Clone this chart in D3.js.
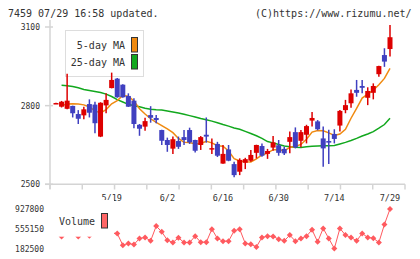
<html>
<head>
<script src="https://cdn.jsdelivr.net/npm/d3@7"></script>
<style>
  body { margin: 0; background: #fff; }
  text { font-family: "DejaVu Sans Mono", monospace; fill: #333; }
</style>
</head>
<body>
<svg id="chart" width="420" height="259"></svg>
<script>
  // trading days shown, 2025
  const dates = ['5/1', '5/2', '5/7', '5/8', '5/9', '5/12', '5/13', '5/14', '5/15', '5/16',
    '5/19', '5/20', '5/21', '5/22', '5/23', '5/26', '5/27', '5/28', '5/29', '5/30',
    '6/2', '6/3', '6/4', '6/5', '6/6', '6/9', '6/10', '6/11', '6/12', '6/13',
    '6/16', '6/17', '6/18', '6/19', '6/20', '6/23', '6/24', '6/25', '6/26', '6/27',
    '6/30', '7/1', '7/2', '7/3', '7/4', '7/7', '7/8', '7/9', '7/10', '7/11',
    '7/14', '7/15', '7/16', '7/17', '7/18', '7/22', '7/23', '7/24', '7/25', '7/28', '7/29']
  const tickDates = ['5/19', '6/2', '6/16', '6/30', '7/14', '7/29']

  const openP = [2808, 2796, 2788, 2799, 2768, 2763, 2806, 2804, 2682, 2801,
    2867, 2903, 2880, 2837, 2819, 2727, 2720, 2764, 2753, 2707,
    2669, 2636, 2665, 2680, 2707, 2669, 2650, 2689, 2633, 2654,
    2579, 2633, 2577, 2548, 2582, 2590, 2620, 2646, 2616, 2640,
    2649, 2635, 2662, 2699, 2666, 2689, 2743, 2740, 2675, 2665,
    2692, 2724, 2783, 2809, 2860, 2875, 2830, 2849, 2920, 2993, 3016]
  const highP = [2811, 2818, 2922, 2800, 2783, 2796, 2824, 2815, 2813, 2847,
    2926, 2905, 2882, 2847, 2828, 2730, 2754, 2798, 2764, 2708,
    2678, 2682, 2682, 2707, 2716, 2670, 2684, 2755, 2675, 2662,
    2650, 2650, 2586, 2599, 2601, 2631, 2651, 2656, 2635, 2684,
    2669, 2643, 2701, 2717, 2707, 2727, 2776, 2745, 2720, 2708,
    2710, 2783, 2822, 2862, 2898, 2898, 2870, 2885, 2952, 3019, 3108]
  const lowP = [2807, 2793, 2786, 2755, 2730, 2748, 2755, 2695, 2680, 2771,
    2866, 2830, 2830, 2795, 2714, 2685, 2704, 2735, 2733, 2650,
    2624, 2616, 2635, 2650, 2654, 2621, 2631, 2659, 2616, 2604,
    2578, 2588, 2527, 2535, 2558, 2586, 2599, 2605, 2597, 2628,
    2609, 2612, 2618, 2637, 2641, 2656, 2720, 2706, 2567, 2577,
    2656, 2701, 2771, 2792, 2834, 2847, 2802, 2824, 2910, 2948, 2987]
  const closeP = [2810, 2815, 2819, 2771, 2750, 2786, 2773, 2733, 2811, 2822,
    2898, 2832, 2832, 2796, 2730, 2712, 2741, 2754, 2745, 2666,
    2650, 2672, 2643, 2669, 2660, 2628, 2680, 2682, 2638, 2609,
    2616, 2590, 2535, 2593, 2596, 2612, 2650, 2609, 2627, 2660,
    2620, 2618, 2680, 2641, 2699, 2722, 2753, 2710, 2637, 2659,
    2673, 2780, 2802, 2847, 2849, 2868, 2856, 2875, 2951, 2968, 3061]

  const ma5 = [null, 2800, 2806, 2807, 2806, 2803, 2795, 2780, 2772, 2785,
    2807, 2819, 2839, 2836, 2818, 2788, 2768, 2750, 2736, 2724,
    2711, 2697, 2675, 2660, 2659, 2654, 2656, 2664, 2658, 2647,
    2645, 2627, 2598, 2589, 2586, 2585, 2597, 2612, 2619, 2632,
    2633, 2627, 2641, 2644, 2652, 2672, 2699, 2705, 2704, 2696,
    2686, 2692, 2710, 2752, 2790, 2829, 2844, 2859, 2880, 2904, 2942]
  const ma25 = [null, 2878, 2876, 2873, 2868, 2862, 2858, 2854, 2850, 2844,
    2835, 2823, 2814, 2805, 2800, 2796, 2790, 2786, 2784, 2783,
    2780, 2776, 2772, 2767, 2762, 2757, 2751, 2746, 2741, 2735,
    2728, 2722, 2715, 2710, 2702, 2694, 2685, 2675, 2663, 2658,
    2652, 2646, 2643, 2641, 2640, 2643, 2645, 2646, 2647, 2647,
    2648, 2654, 2660, 2667, 2675, 2684, 2692, 2701, 2714, 2728, 2752]

  const volume = [480000, 410000, 620000, 500000, 410000, 480000, 425000, 560000, 700000, 520000,
    470000, 467000, 245000, 277000, 258000, 372000, 391000, 327000, 605000, 497000,
    340000, 296000, 384000, 296000, 296000, 416000, 302000, 302000, 548000, 372000,
    321000, 321000, 516000, 548000, 277000, 264000, 213000, 391000, 416000, 410000,
    359000, 327000, 435000, 321000, 372000, 416000, 535000, 308000, 562000, 372000,
    182500, 562000, 435000, 391000, 327000, 467000, 391000, 378000, 296000, 637000, 927800]

  const priceTicks = [2500, 2800, 3100]
  const volTicks = [182500, 555150, 927800]

  const svg = d3.select('#chart')
  const x = d3.scaleLinear().domain([0, dates.length - 1]).range([56, 390])
  const y = d3.scaleLinear().domain([2500, 3100]).range([184.3, 27])
  const yv = d3.scaleLinear().domain([182500, 927800]).range([248.5, 209])
  const frame = d3.scaleLinear().domain([0, 11]).range([50, 405])

  const rows = dates.map((d, i) => ({
    d, i, o: openP[i], h: highP[i], l: lowP[i], c: closeP[i]
  }))

  // header
  svg.append('text').attr('x', 8).attr('y', 17).style('font-size', '10px')
    .text('7459 07/29 16:58 updated.')
  svg.append('text').attr('x', 255).attr('y', 17).style('font-size', '10px')
    .text('(C)https://www.rizumu.net/')

  // frame
  const axisColor = '#d4d4d4'
  svg.append('line').attr('x1', 50).attr('x2', 50).attr('y1', 20).attr('y2', 189)
    .attr('stroke', axisColor).attr('stroke-width', 1.5)
  svg.append('line').attr('x1', 45).attr('x2', 405).attr('y1', y(2500)).attr('y2', y(2500))
    .attr('stroke', axisColor).attr('stroke-width', 1.5)
  svg.selectAll('.xdiv').data(d3.range(12)).enter().append('line')
    .attr('x1', k => frame(k)).attr('x2', k => frame(k))
    .attr('y1', y(2500)).attr('y2', 189.5)
    .attr('stroke', axisColor).attr('stroke-width', 1.5)
  svg.selectAll('.ytick').data(priceTicks).enter().append('line')
    .attr('x1', 45).attr('x2', 53).attr('y1', d => y(d)).attr('y2', d => y(d))
    .attr('stroke', axisColor).attr('stroke-width', 1.5)
  svg.selectAll('.ylab').data(priceTicks).enter().append('text')
    .attr('x', 40).attr('y', d => y(d) + 3).attr('text-anchor', 'end')
    .style('font-size', '8px').text(d => d)
  svg.selectAll('.xlab').data(tickDates).enter().append('text')
    .attr('x', d => x(dates.indexOf(d))).attr('y', 200.5).attr('text-anchor', 'middle')
    .style('font-size', '8.5px').text(d => d)

  // price legend (under candles)
  const lg = svg.append('g')
  lg.append('rect').attr('x', 65.5).attr('y', 30.5).attr('width', 78).attr('height', 46)
    .attr('fill', '#fff').attr('stroke', '#ddd')
  const legendItems = [['5-day MA', '#f08a10', 48.7, 37.5], ['25-day MA', '#12a81e', 65.5, 54.5]]
  legendItems.forEach(([label, color, ty, ry]) => {
    lg.append('text').attr('x', 125).attr('y', ty).attr('text-anchor', 'end')
      .style('font-size', '10px').text(label)
    lg.append('rect').attr('x', 131.5).attr('y', ry).attr('width', 6).attr('height', 14.5)
      .attr('fill', color).attr('stroke', '#333')
  })

  // moving averages
  const maLine = arr => d3.line()
    .defined((d, i) => arr[i] != null)
    .x((d, i) => x(i)).y((d, i) => y(arr[i]))
  svg.append('path').datum(dates).attr('d', maLine(ma25))
    .attr('fill', 'none').attr('stroke', '#12a81e').attr('stroke-width', 1.5)
  svg.append('path').datum(dates).attr('d', maLine(ma5))
    .attr('fill', 'none').attr('stroke', '#f08a10').attr('stroke-width', 1.5)

  // candles
  const up = '#dd0000', down = '#4040c0'
  const candle = svg.selectAll('.candle').data(rows).enter().append('g')
  candle.append('line')
    .attr('x1', d => x(d.i)).attr('x2', d => x(d.i))
    .attr('y1', d => y(d.h)).attr('y2', d => y(d.l))
    .attr('stroke', d => d.c >= d.o ? up : down).attr('stroke-width', 1.5)
  candle.append('rect')
    .attr('x', d => x(d.i) - 2.5).attr('width', 5)
    .attr('y', d => y(Math.max(d.o, d.c)))
    .attr('height', d => Math.max(1.5, Math.abs(y(d.o) - y(d.c))))
    .attr('fill', d => d.c >= d.o ? up : down)

  // volume
  const volColor = '#ff5a5f'
  svg.append('path').datum(volume)
    .attr('d', d3.line().x((d, i) => x(i)).y(d => yv(d)))
    .attr('fill', 'none').attr('stroke', volColor).attr('stroke-width', 1)
  svg.selectAll('.vdot').data(volume).enter().append('path')
    .attr('d', d3.symbol(d3.symbolSquare, 18))
    .attr('transform', (d, i) => `translate(${x(i)},${yv(d)}) rotate(45)`)
    .attr('fill', volColor)
  svg.selectAll('.vlab').data(volTicks).enter().append('text')
    .attr('x', 44).attr('y', d => yv(d) + 3).attr('text-anchor', 'end')
    .style('font-size', '8px').text(d => d)

  // volume legend (over the line)
  svg.append('rect').attr('x', 52).attr('y', 200).attr('width', 62).attr('height', 36.7)
    .attr('fill', '#fff')
  svg.append('text').attr('x', 59).attr('y', 224.7).style('font-size', '10px').text('Volume')
  svg.append('rect').attr('x', 101.5).attr('y', 213.5).attr('width', 6).attr('height', 14.5)
    .attr('fill', '#ff6666').attr('stroke', '#333')
</script>
</body>
</html>
